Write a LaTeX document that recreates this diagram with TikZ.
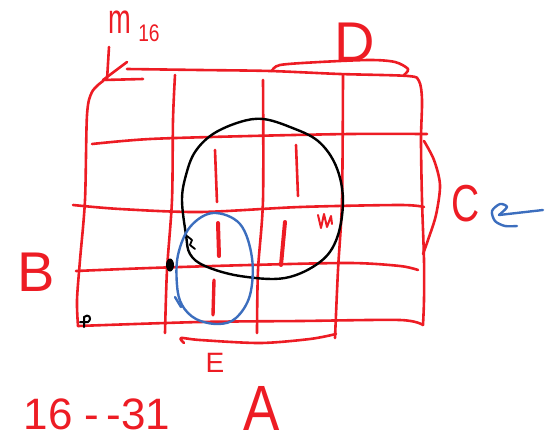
\documentclass[tikz,border=0pt]{standalone}
\usepackage{fontspec}
\newfontfamily\hand{Liberation Sans}
\definecolor{pred}{RGB}{237,28,36}
\definecolor{pblue}{RGB}{60,110,190}
\begin{document}
\begin{tikzpicture}[x=1pt,y=-1pt,
 redpen/.style={draw=pred,line width=2.6pt,line cap=round,line join=round},
 blackpen/.style={draw=black,line width=2.4pt,line cap=round,line join=round},
 bluepen/.style={draw=pblue,line width=2.4pt,line cap=round,line join=round},
 lbl/.style={text=pred,inner sep=0pt,anchor=center}]
\useasboundingbox (0,0) rectangle (557,442);
% grid outline
\draw[redpen] plot[smooth,tension=0.5] coordinates {(127,69) (200,70) (270,71) (340,74) (408,76) (419,81) (422,100) (421,140) (422,200) (424,260) (424,300) (423,325)};
\draw[redpen] plot[smooth,tension=0.5] coordinates {(103,81) (92,92) (87,115) (85,200) (80,260) (77,300) (78,326)};
\draw[redpen] plot[smooth,tension=0.5] coordinates {(78,326) (200,322) (300,321) (400,320) (423,325)};
% horizontal lines
\draw[redpen] plot[smooth,tension=0.5] coordinates {(92,144) (150,139) (250,136) (350,134) (427,134)};
\draw[redpen] plot[smooth,tension=0.5] coordinates {(73,205) (120,209) (200,212) (300,207) (400,205) (424,207)};
\draw[redpen] plot[smooth,tension=0.5] coordinates {(76,271) (150,268) (250,265) (350,263) (400,266) (418,270)};
% vertical lines
\draw[redpen] plot[smooth,tension=0.5] coordinates {(175,75) (173,120) (172,200) (167,270) (165,333)};
\draw[redpen] plot[smooth,tension=0.5] coordinates {(263,80) (263,200) (258,270) (257,333)};
\draw[redpen] plot[smooth,tension=0.5] coordinates {(343,75) (342,200) (338,270) (335,338)};
% corner mark
\draw[redpen] (109,47) -- (107,80);
\draw[redpen] (127,62) -- (103,80) -- (143,79);
% braces
\draw[redpen] plot[smooth] coordinates {(404,75) (408,69) (395,62) (370,60) (320,62) (280,65) (272,71)};
\draw[redpen] plot[smooth] coordinates {(424,141) (434,160) (440,185) (436,215) (428,240) (423,254)};
\draw[redpen] plot[smooth] coordinates {(184,343) (181,338) (200,340) (260,343) (310,339) (336,334)};
% ones
\draw[redpen] (215,150) -- (217,202);
\draw[redpen] (296,145) -- (298,196);
\draw[redpen,line width=4pt] (218,223) -- (219,256);
\draw[redpen,line width=4pt] (285,222) -- (281,265);
\draw[redpen,line width=3.4pt] (214,280) -- (213,315);
\draw[redpen,line width=2pt] (318,215) -- (321,228) -- (324,214) -- (327,227) -- (331,216) -- (332,224);
% black loop
\draw[blackpen] plot[smooth cycle,tension=0.6] coordinates {(182,200) (186,175) (195,152) (213,134) (240,122) (263,119) (290,127) (318,141) (336,166) (343,200) (337,238) (320,262) (285,278) (240,276) (205,266) (190,254) (186,235)};
\draw[blackpen,line width=1.8pt] (187,236) -- (192,240) -- (190,245) -- (195,249);
\fill (170,265) ellipse [x radius=4pt, y radius=6.5pt];
\draw[blackpen,line width=2pt] (84,327) -- (84,317) .. controls (88,313) and (93,318) .. (88,322) -- (80,322);
% blue loop
\draw[bluepen] plot[smooth cycle,tension=0.6] coordinates {(213,213) (240,224) (252,258) (250,295) (236,318) (218,324) (196,319) (182,305) (177,285) (178,255) (190,227)};
\draw[bluepen] (175,297) -- (181,307);
\draw[bluepen] (543,210) -- (499,215);
\draw[bluepen] plot[smooth] coordinates {(499,215) (507,207) (500,204) (492,211) (495,221) (505,226) (517,226)};
% labels
\node[lbl,font=\hand\fontsize{42}{42}\selectfont,xscale=0.65] (lm) at (120,22) {m};
\node[lbl,font=\hand\fontsize{24}{24}\selectfont,xscale=0.8] (l16) at (149,33) {16};
\node[lbl,font=\hand\fontsize{56}{56}\selectfont] (lD) at (355,42) {D};
\node[lbl,font=\hand\fontsize{52}{52}\selectfont,xscale=0.75] (lC) at (466,204) {C};
\node[lbl,font=\hand\fontsize{56}{56}\selectfont] (lB) at (36,272) {B};
\node[lbl,font=\hand\fontsize{28}{28}\selectfont] (lE) at (215,363) {E};
\node[lbl,font=\hand\fontsize{64}{64}\selectfont,xscale=0.85] (lA) at (262,408) {A};
\node[lbl,font=\hand\fontsize{44}{44}\selectfont] (lr) at (97,414) {16 -\,-31};
\end{tikzpicture}
\end{document}
